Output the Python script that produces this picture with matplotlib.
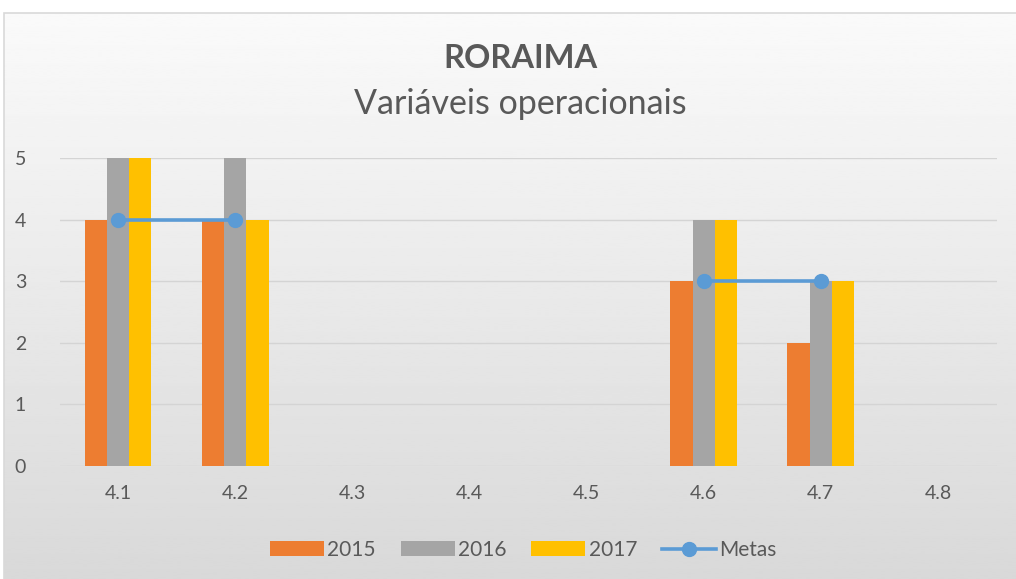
import numpy as np
import matplotlib
matplotlib.use("Agg")
from matplotlib import pyplot as plt
from matplotlib.patches import Rectangle

categories = ["4.1", "4.2", "4.3", "4.4", "4.5", "4.6", "4.7", "4.8"]
v2015 = [4, 4, 0, 0, 0, 3, 2, 0]
v2016 = [5, 5, 0, 0, 0, 4, 3, 0]
v2017 = [5, 4, 0, 0, 0, 4, 3, 0]
metas = [4, 4, np.nan, np.nan, np.nan, 3, 3, np.nan]

TXT = "#595959"
plt.rcParams["font.family"] = ["Lato", "DejaVu Sans"]

W, H = 1016, 579
fig = plt.figure(figsize=(W / 100, H / 100), dpi=100)
fig.patch.set_facecolor("white")

# gradient chart-area background with thin border
bg = fig.add_axes([4 / W, 0, 1 - 4 / W, (H - 13) / H], zorder=-2)
grad = np.linspace(0.98, 0.85, 256).reshape(-1, 1)
bg.imshow(grad, cmap="gray", vmin=0, vmax=1, aspect="auto",
          extent=[0, 1, 0, 1], origin="upper")
bg.set_axis_off()
fig.add_artist(Rectangle((4 / W, -0.01), 1.0, (H - 13) / H + 0.01,
                         transform=fig.transFigure, fill=False,
                         edgecolor="#d9d9d9", linewidth=1.2))

ax = fig.add_axes([59.5 / W, 113 / H, 937 / W, 308 / H])
ax.set_facecolor("none")
x = np.arange(len(categories))
bw = 0.19
b1 = ax.bar(x - bw, v2015, bw, color="#ed7d31", label="2015", zorder=2)
b2 = ax.bar(x, v2016, bw, color="#a5a5a5", label="2016", zorder=2)
b3 = ax.bar(x + bw, v2017, bw, color="#ffc000", label="2017", zorder=2)
ln, = ax.plot(x, metas, color="#5b9bd5", linewidth=2.6, marker="o",
              markersize=10, label="Metas", zorder=3)

ax.set_xlim(-0.5, len(categories) - 0.5)
ax.set_ylim(0, 5)
ax.set_yticks(range(6))
ax.set_xticks(x)
ax.set_xticklabels(categories)
ax.tick_params(length=0, labelsize=14, colors=TXT)
ax.tick_params(axis="x", pad=14)
ax.tick_params(axis="y", pad=24)
for s in ax.spines.values():
    s.set_visible(False)
ax.grid(True, axis="y", color="#d4d4d4", linewidth=1, zorder=0)
ax.set_axisbelow(True)

fig.text(0.512, 1 - 58 / H, "RORAIMA", ha="center", va="center",
         fontsize=23.5, fontweight="bold", color=TXT)
fig.text(0.512, 1 - 104 / H, "Variáveis operacionais", ha="center",
         va="center", fontsize=24.5, color=TXT)

fig.legend([b1, b2, b3, ln], ["2015", "2016", "2017", "Metas"],
           loc="center", bbox_to_anchor=(0.515, 1 - 550 / H), ncol=4,
           frameon=False, fontsize=15, handlelength=2.6, handletextpad=0.15,
           columnspacing=1.2, labelcolor=TXT)

plt.savefig("out.png", dpi=100)
